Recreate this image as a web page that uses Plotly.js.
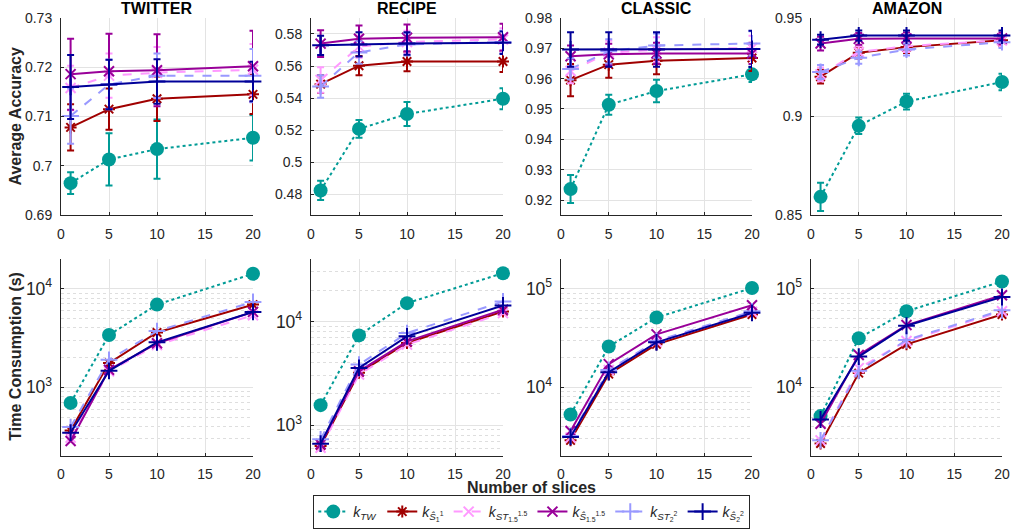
<!DOCTYPE html>
<html><head><meta charset="utf-8">
<script src="https://cdn.plot.ly/plotly-3.0.1.min.js"></script>
<style>html,body{margin:0;padding:0;background:#fff}#chart{width:1011px;height:529px}</style>
</head><body><div id="chart"></div>
<script>
// ---------------- DATA ----------------
const slices = [1, 5, 10, 20];
const datasetNames = ['TWITTER', 'RECIPE', 'CLASSIC', 'AMAZON'];
const methodLabels = [
  '<i>k</i><sub><i>TW</i></sub>',
  '<i>k</i><sub><i>Ŝ</i><sub>1</sub><sup>1</sup></sub>',
  '<i>k</i><sub><i>ST</i><sub>1.5</sub><sup>1.5</sup></sub>',
  '<i>k</i><sub><i>Ŝ</i><sub>1.5</sub><sup>1.5</sup></sub>',
  '<i>k</i><sub><i>ST</i><sub>2</sub><sup>2</sup></sub>',
  '<i>k</i><sub><i>Ŝ</i><sub>2</sub><sup>2</sup></sub>'
];
// rows: TW, S1, ST1.5, S1.5, ST2, S2
const accTwitter = [
  [0.6965, 0.7013, 0.7034, 0.7057],
  [0.7078, 0.7115, 0.7136, 0.7145],
  [0.7158, 0.7183, 0.7189, 0.7195],
  [0.7186, 0.7192, 0.7194, 0.7202],
  [0.7101, 0.7165, 0.7183, 0.7183],
  [0.7160, 0.7165, 0.7171, 0.7171]
];
const errTwitter = [
  [0.0022, 0.0053, 0.0060, 0.0046],
  [0.0047, 0.0042, 0.0045, 0.0040],
  [0.0045, 0.0045, 0.0052, 0.0052],
  [0.0072, 0.0076, 0.0073, 0.0072],
  [0.0056, 0.0050, 0.0045, 0.0054],
  [0.0065, 0.0050, 0.0045, 0.0040]
];
const accRecipe = [
  [0.4824, 0.5208, 0.5301, 0.5396],
  [0.5487, 0.5602, 0.5628, 0.5628],
  [0.5513, 0.5721, 0.5750, 0.5766],
  [0.5740, 0.5770, 0.5776, 0.5780],
  [0.5473, 0.5685, 0.5735, 0.5750],
  [0.5729, 0.5735, 0.5740, 0.5745]
];
const errRecipe = [
  [0.0060, 0.0055, 0.0075, 0.0065],
  [0.0055, 0.0060, 0.0060, 0.0065],
  [0.0080, 0.0070, 0.0070, 0.0070],
  [0.0083, 0.0083, 0.0083, 0.0083],
  [0.0070, 0.0070, 0.0070, 0.0070],
  [0.0060, 0.0075, 0.0070, 0.0070]
];
const accClassic = [
  [0.9236, 0.9514, 0.9559, 0.9614],
  [0.9595, 0.9646, 0.9659, 0.9668],
  [0.9625, 0.9685, 0.9696, 0.9701],
  [0.9674, 0.9680, 0.9683, 0.9683],
  [0.9632, 0.9690, 0.9709, 0.9716],
  [0.9696, 0.9696, 0.9696, 0.9698]
];
const errClassic = [
  [0.0046, 0.0033, 0.0037, 0.0025],
  [0.0053, 0.0043, 0.0045, 0.0043],
  [0.0040, 0.0040, 0.0040, 0.0040],
  [0.0035, 0.0035, 0.0035, 0.0035],
  [0.0035, 0.0040, 0.0040, 0.0040],
  [0.0057, 0.0057, 0.0057, 0.0060]
];
const accAmazon = [
  [0.8593, 0.8953, 0.9076, 0.9175],
  [0.9202, 0.9324, 0.9352, 0.9387],
  [0.9214, 0.9327, 0.9357, 0.9387],
  [0.9370, 0.9394, 0.9396, 0.9396],
  [0.9226, 0.9298, 0.9340, 0.9377],
  [0.9390, 0.9411, 0.9411, 0.9411]
];
const errAmazon = [
  [0.0072, 0.0042, 0.0040, 0.0042],
  [0.0035, 0.0030, 0.0030, 0.0030],
  [0.0035, 0.0030, 0.0030, 0.0030],
  [0.0035, 0.0030, 0.0030, 0.0030],
  [0.0035, 0.0030, 0.0030, 0.0030],
  [0.0025, 0.0025, 0.0025, 0.0025]
];
const timeTwitter = [
  [695, 3390, 6900, 14160],
  [366, 1760, 3600, 6900],
  [309, 1450, 2690, 5390],
  [286, 1505, 2795, 5820],
  [395, 1900, 3720, 7350],
  [347, 1470, 2860, 5820]
];
const timeRecipe = [
  [1557, 7330, 15000, 29200],
  [628, 3190, 6190, 12480],
  [605, 3070, 5970, 12020],
  [652, 3300, 6420, 12950],
  [728, 3830, 7720, 15570],
  [661, 3560, 7180, 14250]
];
const timeClassic = [
  [5310, 25900, 51000, 101600],
  [2900, 13600, 27300, 54700],
  [3090, 15000, 29000, 58300],
  [3605, 17200, 34400, 68000],
  [3210, 15000, 29500, 59000],
  [3140, 14260, 28600, 56900]
];
const timeAmazon = [
  [5110, 31400, 59100, 118500],
  [2690, 13940, 27300, 54700],
  [2900, 15650, 29500, 59000],
  [4270, 21300, 42800, 85700],
  [2900, 14700, 30200, 60500],
  [4720, 20500, 42100, 82400]
];
const accRanges = [[0.69, 0.73], [0.467, 0.59], [0.915, 0.98], [0.85, 0.95]];
const accDticks = [0.01, 0.02, 0.01, 0.05];
const timeRanges = [[200, 20000], [500, 40000], [2000, 200000], [2000, 200000]];

// ---------------- STYLE ----------------
const styles = [
  {color: '#009b96', dash: 'dot',   symbol: 'circle',          size: 14, mlw: 0},
  {color: '#a00000', dash: 'solid', symbol: 'asterisk-open',   size: 10, mlw: 2},
  {color: '#ff99ff', dash: 'dash',  symbol: 'x-thin-open',     size: 10, mlw: 2},
  {color: '#990099', dash: 'solid', symbol: 'x-thin-open',     size: 10, mlw: 2},
  {color: '#9999ff', dash: 'dash',  symbol: 'cross-thin-open', size: 12, mlw: 2},
  {color: '#000099', dash: 'solid', symbol: 'cross-thin-open', size: 12, mlw: 2}
];
const accAll = [accTwitter, accRecipe, accClassic, accAmazon];
const errAll = [errTwitter, errRecipe, errClassic, errAmazon];
const timeAll = [timeTwitter, timeRecipe, timeClassic, timeAmazon];

const W = 1011, H = 529;
const colPx = [[61, 253], [311, 503], [561, 752], [811, 1002]];
const topPx = [18, 216], botPx = [260, 458];
const fx = p => p / W, fy = p => 1 - p / H;

const traces = [];
for (let d = 0; d < 4; d++) {
  for (let m = 0; m < 6; m++) {
    const s = styles[m];
    const marker = {symbol: s.symbol, size: s.size, color: s.color,
      line: {color: s.color, width: s.mlw}};
    traces.push({
      x: slices, y: accAll[d][m], xaxis: 'x' + (d + 1), yaxis: 'y' + (d + 1),
      type: 'scatter', mode: 'lines+markers', cliponaxis: false,
      name: methodLabels[m], legendgroup: 'm' + m, showlegend: d === 0,
      line: {color: s.color, width: 2, dash: s.dash}, marker: marker,
      error_y: {type: 'data', array: errAll[d][m], visible: true, color: s.color, thickness: 2, width: 3.5}
    });
    traces.push({
      x: slices, y: timeAll[d][m], xaxis: 'x' + (d + 5), yaxis: 'y' + (d + 5),
      type: 'scatter', mode: 'lines+markers', cliponaxis: false,
      name: methodLabels[m], legendgroup: 'm' + m, showlegend: false,
      line: {color: s.color, width: 2, dash: s.dash}, marker: marker
    });
  }
}

const font = {family: '"Liberation Sans", Arial, sans-serif', size: 14, color: '#262626'};
const layout = {
  width: W, height: H, margin: {l: 0, r: 0, t: 0, b: 0},
  paper_bgcolor: '#fff', plot_bgcolor: '#fff', font: font, showlegend: true,
  legend: {orientation: 'h', x: 0.526, xanchor: 'center', y: fy(497), yanchor: 'top',
    bordercolor: '#262626', borderwidth: 1, font: {family: font.family, size: 14, color: '#262626'},
    itemwidth: 30, tracegroupgap: 0},
  annotations: []
};
const gridc = '#e3e3e3';
for (let d = 0; d < 4; d++) {
  const xd = [fx(colPx[d][0]), fx(colPx[d][1])];
  const common = {showline: true, linecolor: '#262626', linewidth: 1, mirror: false,
    ticks: 'inside', ticklen: 3, tickcolor: '#262626', showgrid: true, gridcolor: gridc,
    zeroline: false, tickfont: font};
  layout['xaxis' + (d + 1)] = Object.assign({}, common, {domain: xd, range: [0, 20], dtick: 5, tick0: 0,
    anchor: 'y' + (d + 1), ticklabelstandoff: 6});
  layout['xaxis' + (d + 5)] = Object.assign({}, common, {domain: xd, range: [0, 20], dtick: 5, tick0: 0,
    anchor: 'y' + (d + 5), ticklabelstandoff: 5});
  layout['yaxis' + (d + 1)] = Object.assign({}, common, {domain: [fy(topPx[1]), fy(topPx[0])],
    range: accRanges[d], dtick: accDticks[d], tick0: 0, anchor: 'x' + (d + 1), ticklabelstandoff: 5});
  layout['yaxis' + (d + 5)] = Object.assign({}, common, {domain: [fy(botPx[1]), fy(botPx[0])],
    type: 'log', range: [Math.log10(timeRanges[d][0]), Math.log10(timeRanges[d][1])],
    dtick: 1, exponentformat: 'power', anchor: 'x' + (d + 5), ticklabelstandoff: 5,
    minor: {dtick: 'D1', showgrid: true, gridcolor: '#dedede', griddash: 'dot', gridwidth: 1, ticks: ''}});
  layout.annotations.push({text: '<b>' + datasetNames[d] + '</b>', xref: 'paper', yref: 'paper',
    x: (xd[0] + xd[1]) / 2, y: fy(9), xanchor: 'center', yanchor: 'middle', showarrow: false,
    font: {family: font.family, size: 16, color: '#000'}});
}
layout.annotations.push({text: '<b>Average Accuracy</b>', xref: 'paper', yref: 'paper', x: fx(16), y: fy(117),
  textangle: -90, showarrow: false, xanchor: 'center', yanchor: 'middle', font: {family: font.family, size: 16, color: '#262626'}});
layout.annotations.push({text: '<b>Time Consumption (s)</b>', xref: 'paper', yref: 'paper', x: fx(16), y: fy(358),
  textangle: -90, showarrow: false, xanchor: 'center', yanchor: 'middle', font: {family: font.family, size: 16, color: '#262626'}});
layout.annotations.push({text: '<b>Number of slices</b>', xref: 'paper', yref: 'paper', x: fx(531), y: fy(489),
  showarrow: false, xanchor: 'center', yanchor: 'middle', font: {family: font.family, size: 16, color: '#262626'}});

Plotly.newPlot('chart', traces, layout, {staticPlot: true, displayModeBar: false});
</script></body></html>
